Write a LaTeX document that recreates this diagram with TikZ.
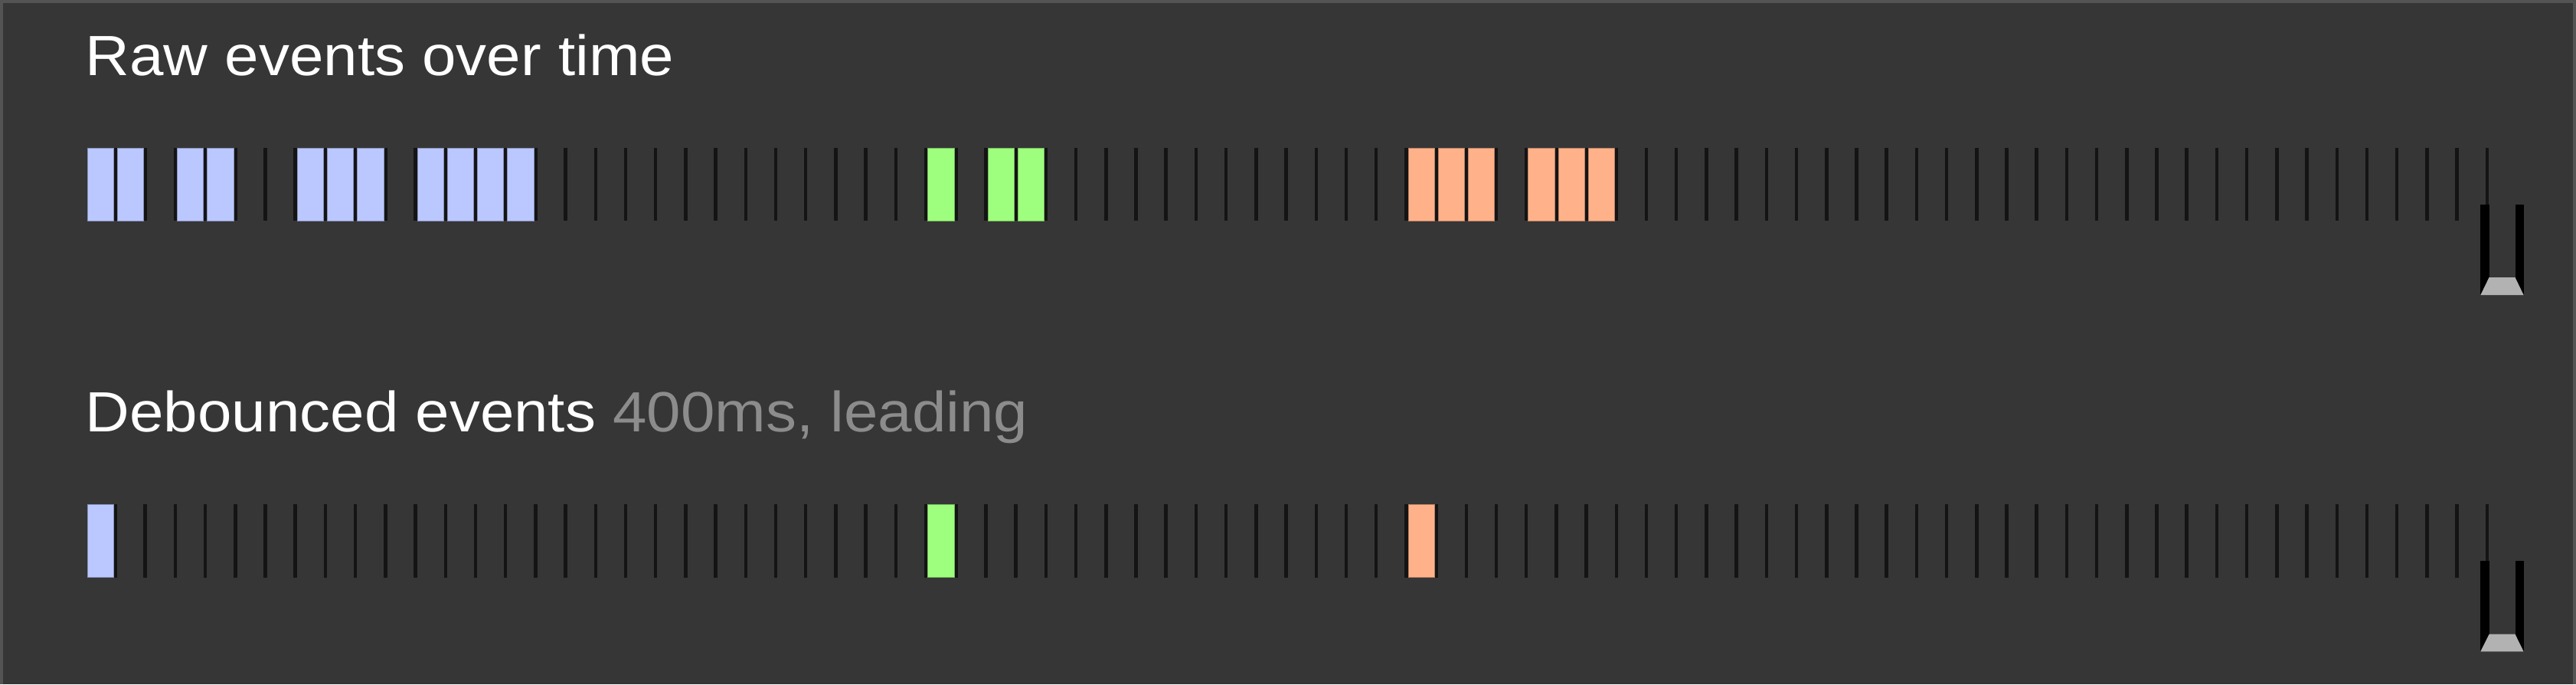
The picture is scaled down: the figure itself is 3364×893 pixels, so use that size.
\documentclass[tikz,border=0pt]{standalone}
\usepackage{fontspec}
\setmainfont{Liberation Sans}[FakeStretch=1.08]
\definecolor{panel}{RGB}{54,54,54}
\definecolor{rim}{RGB}{84,84,84}
\definecolor{tickc}{RGB}{20,20,20}
\definecolor{evblue}{RGB}{187,200,255}
\definecolor{evgreen}{RGB}{158,255,126}
\definecolor{evorange}{RGB}{255,178,138}
\definecolor{knob}{RGB}{178,178,178}
\definecolor{note}{RGB}{140,140,140}
\begin{document}
\begin{tikzpicture}[x=0.25pt, y=-0.25pt,
	tickbar/.style={fill=tickc},
	ev/.style={fill=#1, draw=#1!72!black, line width=0.25pt},
	label/.style={anchor=base west, inner sep=0pt, text=white, font=\fontsize{18.5}{22}\selectfont}]
	\useasboundingbox (0,0) rectangle (3364,893);
	\fill[panel] (0,0) rectangle (3364,893);
	\draw[rim, line width=1pt] (2,893)--(2,2)--(3362,2)--(3362,893);
	\node[label] (rawlabel) at (111,98) {Raw events over time};
	\node[label] (deblabel) at (111,563) {Debounced events \textcolor{note}{400ms, leading}};
	\foreach \j in {0,...,79} {
		\fill[tickbar] ({148.25+39.206*\j},193) rectangle +(4.5,95);
		\fill[tickbar] ({148.25+39.206*\j},658) rectangle +(4.5,96);
	}
	\foreach \i/\c in {0/evblue,1/evblue,3/evblue,4/evblue,7/evblue,8/evblue,9/evblue,
		11/evblue,12/evblue,13/evblue,14/evblue,28/evgreen,30/evgreen,31/evgreen,
		44/evorange,45/evorange,46/evorange,48/evorange,49/evorange,50/evorange}
		\filldraw[ev=\c] ({114+39.206*\i},193.5) rectangle +(34.3,94.5);
	\foreach \i/\c in {0/evblue,28/evgreen,44/evorange}
		\filldraw[ev=\c] ({114+39.206*\i},658.5) rectangle +(34.3,95);
	\foreach \ya/\yb/\yc in {267/362/385, 732/827.7/850.3} {
		\fill[black] (3239.3,\ya) rectangle (3250.5,\yc);
		\fill[black] (3284.5,\ya) rectangle (3295.6,\yc);
		\fill[knob] (3239.3,\yc)--(3250.5,\yb)--(3284.5,\yb)--(3295.6,\yc)--cycle;
	}
\end{tikzpicture}
\end{document}
